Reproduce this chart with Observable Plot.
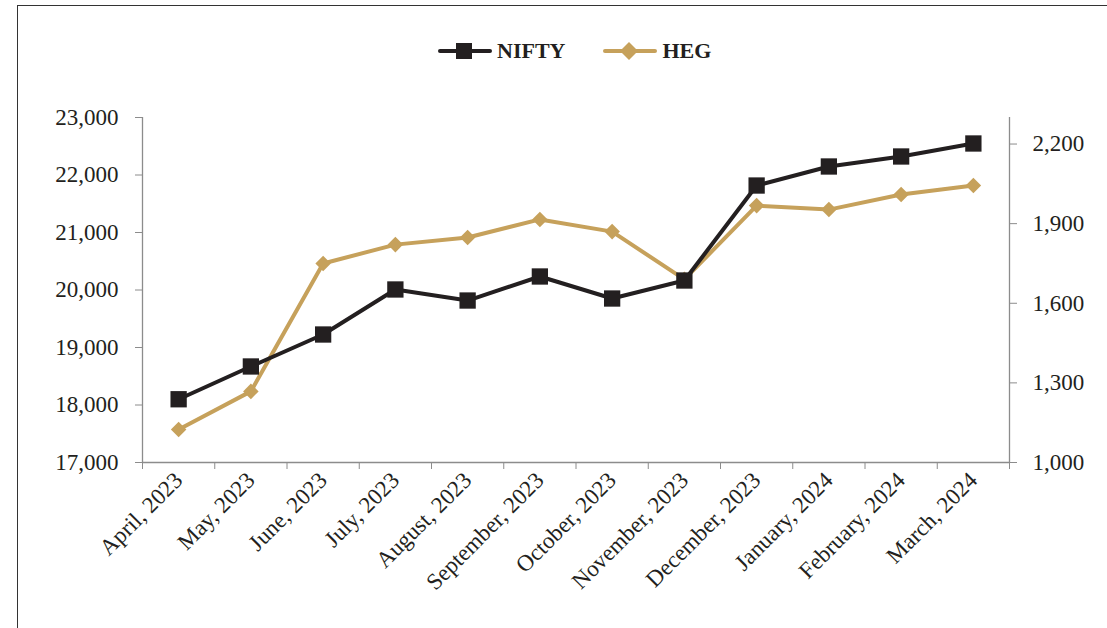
<!DOCTYPE html>
<html>
<head>
<meta charset="utf-8">
<script src="https://cdn.jsdelivr.net/npm/d3@7"></script>
<script src="https://cdn.jsdelivr.net/npm/@observablehq/plot@0.6"></script>
<style>
  html, body { margin: 0; padding: 0; background: #fff; }
  #wrap { position: relative; width: 1107px; height: 628px; overflow: hidden; font-family: "Liberation Serif", "DejaVu Serif", serif; }
  #frame { position: absolute; left: 17px; top: 5px; width: 1200px; height: 700px; border-top: 1.5px solid #333; border-left: 1.5px solid #333; }
  #legend { position: absolute; top: 38px; left: 438px; display: flex; align-items: center; font-weight: bold; font-size: 22px; color: #231f20; }
  .item { display: flex; align-items: center; }
  .item svg { display: block; }
  #chart { position: absolute; left: 0; top: 95px; }
</style>
</head>
<body>
<div id="wrap">
  <div id="frame"></div>
  <div id="legend"></div>
  <div id="chart"></div>
</div>
<script>
const months = ["April, 2023", "May, 2023", "June, 2023", "July, 2023", "August, 2023", "September, 2023",
  "October, 2023", "November, 2023", "December, 2023", "January, 2024", "February, 2024", "March, 2024"];
const nifty = [18100, 18670, 19226, 20009, 19817, 20235, 19852, 20165, 21817, 22148, 22322, 22548];
const heg = [1124, 1268, 1750, 1821, 1848, 1916, 1870, 1690, 1968, 1953, 2010, 2044];
const leftTicks = [17000, 18000, 19000, 20000, 21000, 22000, 23000];
const rightTicks = [1000, 1300, 1600, 1900, 2200];
const leftDomain = [17000, 23000];
const rightDomain = [1000, 2300];
const seriesNames = ["NIFTY", "HEG"];
const seriesColors = ["#231f20", "#c6a15b"];

const toLeft = v => leftDomain[0] + (v - rightDomain[0]) * (leftDomain[1] - leftDomain[0]) / (rightDomain[1] - rightDomain[0]);
const toRight = v => rightDomain[0] + (v - leftDomain[0]) * (rightDomain[1] - rightDomain[0]) / (leftDomain[1] - leftDomain[0]);
const fmt = d3.format(",");

const niftyData = months.map((m, i) => ({x: i + 0.5, y: nifty[i]}));
const hegData = months.map((m, i) => ({x: i + 0.5, y: toLeft(heg[i])}));
const n = months.length;
const axisColor = "#8c8c8c";

const chart = Plot.plot({
  width: 1107,
  height: 533,
  marginLeft: 142,
  marginRight: 98,
  marginTop: 22,
  marginBottom: 166,
  style: {fontFamily: "Liberation Serif, DejaVu Serif, serif", fontSize: "23px", color: "#231f20", background: "transparent", overflow: "visible"},
  x: {type: "linear", domain: [0, n]},
  y: {domain: leftDomain},
  marks: [
    Plot.ruleY([leftDomain[0]], {x1: 0, x2: n, stroke: axisColor, strokeWidth: 1.3}),
    Plot.ruleX([0], {y1: leftDomain[0], y2: leftDomain[1], stroke: axisColor, strokeWidth: 1.3}),
    Plot.ruleX([n], {y1: leftDomain[0], y2: leftDomain[1], stroke: axisColor, strokeWidth: 1.3}),
    Plot.axisY({ticks: leftTicks, tickFormat: fmt, tickSize: 7, tickPadding: 17, stroke: axisColor, fill: "#231f20", label: null}),
    Plot.axisY({anchor: "right", ticks: rightTicks.map(toLeft), tickFormat: d => fmt(Math.round(toRight(d))), tickSize: 7, tickPadding: 16, stroke: axisColor, fill: "#231f20", label: null}),
    Plot.axisX({ticks: d3.range(n + 1), tickFormat: () => "", tickSize: 7, stroke: axisColor, label: null}),
    Plot.axisX({ticks: d3.range(n).map(i => i + 0.5), tickFormat: d => months[Math.floor(d)], tickSize: 0, tickPadding: 14, tickRotate: -45, fill: "#231f20", label: null}),
    Plot.line(hegData, {x: "x", y: "y", stroke: seriesColors[1], strokeWidth: 4}),
    Plot.dot(hegData, {x: "x", y: "y", symbol: "diamond2", r: 7, fill: seriesColors[1], stroke: "none"}),
    Plot.line(niftyData, {x: "x", y: "y", stroke: seriesColors[0], strokeWidth: 4}),
    Plot.dot(niftyData, {x: "x", y: "y", symbol: "square", r: 9.2, fill: seriesColors[0], stroke: "none"})
  ]
});
document.getElementById("chart").appendChild(chart);

// legend
const legend = document.getElementById("legend");
seriesNames.forEach((name, i) => {
  const item = document.createElement("div");
  item.className = "item";
  item.style.marginRight = i === 0 ? "38px" : "0px";
  const shape = i === 0
    ? `<rect x="18" y="3" width="16" height="16" fill="${seriesColors[i]}"/>`
    : `<path d="M26,2 L35,11 L26,20 L17,11 Z" fill="${seriesColors[i]}"/>`;
  item.innerHTML = `<svg width="54" height="22"><line x1="2" y1="11" x2="52" y2="11" stroke="${seriesColors[i]}" stroke-width="4" stroke-linecap="round"/>${shape}</svg><span style="margin-left:5px">${name}</span>`;
  legend.appendChild(item);
});
</script>
</body>
</html>
